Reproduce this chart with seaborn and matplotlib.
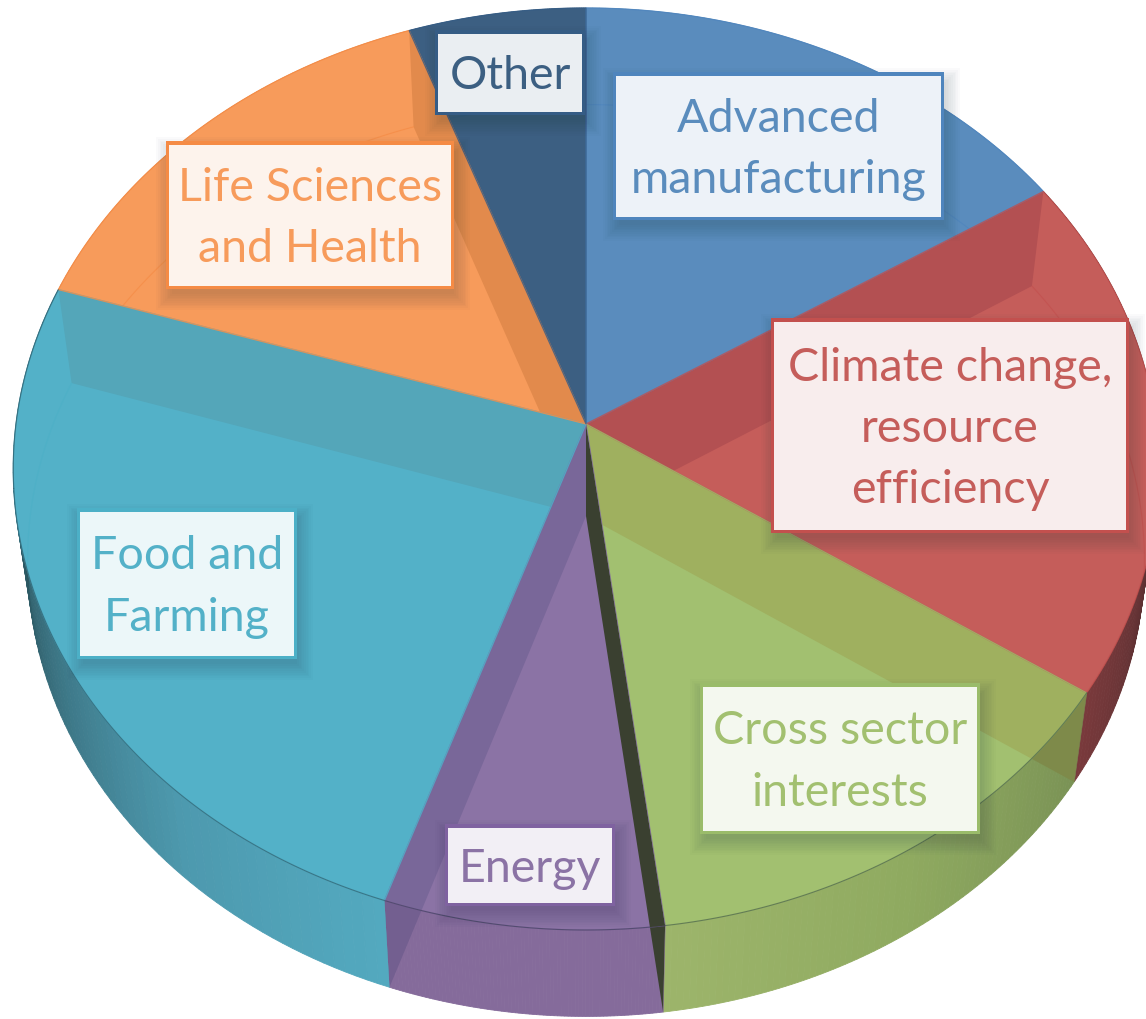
import numpy as np
import seaborn as sns
import matplotlib
matplotlib.use('Agg')
import matplotlib.pyplot as plt
from matplotlib.colors import LinearSegmentedColormap
from matplotlib.patches import Polygon, Rectangle

# clockwise from 12 o'clock
sectors = ['Advanced\nmanufacturing', 'Climate change,\nresource\nefficiency', 'Cross sector\ninterests',
           'Energy', 'Food and\nFarming', 'Life Sciences\nand Health', 'Other']
shares = [16.0, 18.4, 13.6, 7.2, 24.7, 14.6, 5.5]

top_colors = ['#5A8CBD', '#C55D5A', '#A2C070', '#8B73A5', '#53B1C8', '#F79B5B', '#3C5F82']
face_colors = ['#5A8CBD', '#B35052', '#9FB05F', '#796799', '#54A6B9', '#E28A4C', '#3C5F82']
side_face_colors = ['#5A8CBD', '#7A3A3C', '#7E8A4A', '#735F90', '#4D99AE', '#E28A4C', '#3C5F82']
border_colors = ['#4F85BD', '#C3504E', '#9ABC6A', '#7F62A0', '#4CB0C7', '#F58B45', '#355C85']
side_ramps = [['#5A8CBD', '#5A8CBD'],
              ['#2A1A1C', '#4A2A2C', '#7A3A3C'],
              ['#7A9255', '#8FAA60', '#9DB56B'],
              ['#856B9B', '#856B9B'],
              ['#53A9BF', '#4D99AE', '#3C7584', '#284F58', '#1C3840'],
              ['#E28A4C', '#E28A4C'],
              ['#3C5F82', '#3C5F82']]

# label boxes: x0, y0, x1, y1 of the white part
label_boxes = [(616, 76, 941, 217), (774, 322, 1126, 530), (703, 687, 977, 831),
               (448, 828, 612, 903), (80, 512, 294, 656), (169, 145, 451, 286), (438, 34, 582, 112)]

K = 0.0976
A = 570.0
B = 456.6
TOP = dict(cx=586.0, cy=424.0, sx=1.0, sy=1.0)
BOTTOM = dict(cx=586.0, cy=516.0, sx=0.975, sy=0.989)


def project(theta, plane, r=1.0):
    """Disc coordinates (degrees clockwise from 12 o'clock) to picture coordinates."""
    u = r * np.sin(np.radians(theta))
    v = r * np.cos(np.radians(theta))
    den = 1 + K * v
    return np.column_stack([plane['cx'] + plane['sx'] * A * u / den,
                            plane['cy'] - plane['sy'] * B * v / den])


def arc(t1, t2, plane, n=120):
    return project(np.linspace(t1, t2, n), plane)


def edge_face(theta):
    """Inner wall of a slice seen through the glass top."""
    return np.vstack([project(np.array([theta]), TOP, 0), project(np.array([theta]), TOP),
                      project(np.array([theta]), BOTTOM), project(np.array([theta]), BOTTOM, 0)])


def draw_label(ax, box, text, color, border):
    x0, y0, x1, y1 = box
    # soft shadow
    for grow in np.linspace(16, 0, 10):
        ax.add_patch(Rectangle((x0 + 3 - grow, y0 + 8 - grow), x1 - x0 + 2 * grow, y1 - y0 + 2 * grow,
                               fc='#1a2a3a', ec='none', alpha=0.018, zorder=10))
    ax.add_patch(Rectangle((x0 - 3, y0 - 4), x1 - x0 + 6, y1 - y0 + 7, fc=border, ec='none', zorder=11))
    ax.add_patch(Rectangle((x0, y0), x1 - x0, y1 - y0, fc='white', ec='none', alpha=0.9, zorder=12))
    ax.text((x0 + x1) / 2, (y0 + y1) / 2 + 3, text, color=color, ha='center', va='center',
            fontsize=33.6, linespacing=1.57, zorder=13)


sns.set_theme(style='white')
plt.rcParams['font.family'] = ['Lato', 'DejaVu Sans']

fig, ax = plt.subplots(figsize=(11.46, 10.19), dpi=100)
fig.subplots_adjust(0, 0, 1, 1)
ax.set_xlim(0, 1146)
ax.set_ylim(1019, 0)
ax.axis('off')

edges = np.concatenate([[0], np.cumsum(shares) / np.sum(shares) * 360])

# outer walls first, the top discs cover whatever is behind them
for i in range(len(shares)):
    t1, t2 = edges[i], edges[i + 1]
    cmap = LinearSegmentedColormap.from_list('side', side_ramps[i])
    ts = np.linspace(t1, t2, 80)
    for a, b in zip(ts[:-1], ts[1:]):
        quad = np.vstack([project(np.array([a, b]), TOP), project(np.array([b, a]), BOTTOM)])
        col = cmap((a - t1) / (t2 - t1))
        ax.add_patch(Polygon(quad, fc=col, ec=col, lw=0.6, zorder=1))
    side = Polygon(np.vstack([arc(t1, t2, TOP), arc(t2, t1, BOTTOM)]), fc='none', ec='none', zorder=1)
    ax.add_patch(side)
    for t in (t1, t2):
        side_color = '#3A4030' if i == 3 and t == t1 else side_face_colors[i]
        face = Polygon(edge_face(t), fc=side_color, ec='none', zorder=1.5)
        ax.add_patch(face)
        face.set_clip_path(side)

for i in range(len(shares)):
    t1, t2 = edges[i], edges[i + 1]
    pts = np.vstack([project(np.array([t1]), TOP, 0), arc(t1, t2, TOP)])
    wedge = Polygon(pts, fc=top_colors[i], ec='none', zorder=2)
    ax.add_patch(wedge)
    for t in (t1, t2):
        dark = i == 3 and t == t1
        # the cut next to the green slice reads almost black
        face = Polygon(edge_face(t), fc='#3A4030' if dark else face_colors[i], ec='none', zorder=6 if dark else 3)
        ax.add_patch(face)
        face.set_clip_path(wedge)
    # bottom rim showing through the top
    xy = arc(t1, t2, BOTTOM)
    line, = ax.plot(xy[:, 0], xy[:, 1], color=border_colors[i], lw=0.8, alpha=0.7, zorder=4)
    line.set_clip_path(wedge)
    # slice outline
    ax.add_patch(Polygon(pts, fc='none', ec=border_colors[i], lw=0.9, alpha=0.8, zorder=5))
    # front rim line
    if 120 < t2 and t1 < 290:
        xy = arc(max(t1, 123.8), min(t2, 262), TOP)
        ax.plot(xy[:, 0], xy[:, 1], color='#20303a', lw=0.8, alpha=0.45, zorder=5)

for i, name in enumerate(sectors):
    draw_label(ax, label_boxes[i], name, top_colors[i], border_colors[i])

fig.savefig('out.png', dpi=100)
